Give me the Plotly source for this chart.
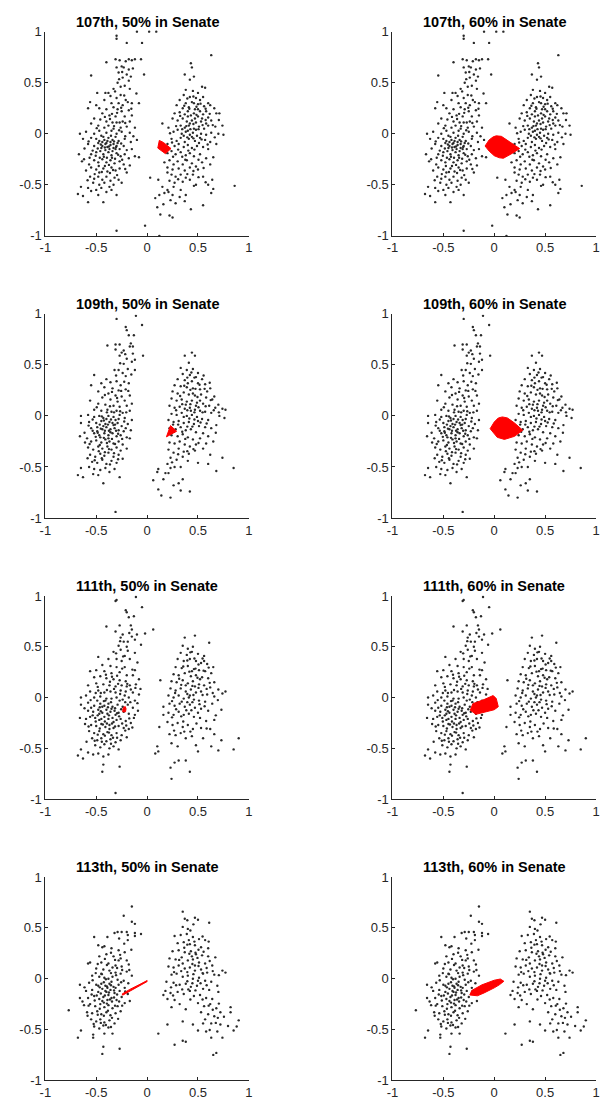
import plotly.graph_objects as go

# ---------------- data ----------------
titles = ["107th, 50% in Senate", "107th, 60% in Senate",
          "109th, 50% in Senate", "109th, 60% in Senate",
          "111th, 50% in Senate", "111th, 60% in Senate",
          "113th, 50% in Senate", "113th, 60% in Senate"]
tick_vals = [-1, -0.5, 0, 0.5, 1]
tick_text = ["-1", "-0.5", "0", "0.5", "1"]

d107 = [(-0.10,1.00),(0.02,1.00),(0.09,1.00),(-0.30,0.96),(-0.30,0.93),(-0.20,0.89),(-0.05,0.89),
(-0.40,0.70),(-0.31,0.73),(-0.27,0.72),(-0.21,0.71),(-0.18,0.73),(-0.15,0.72),(-0.12,0.73),(-0.06,0.73),
(-0.30,0.65),(-0.25,0.66),(-0.23,0.65),(-0.18,0.63),(-0.14,0.64),(-0.28,0.60),(-0.20,0.58),(-0.16,0.56),(-0.03,0.58),(-0.55,0.57),
(-0.24,0.55),(-0.18,0.52),(-0.29,0.50),(-0.26,0.46),(-0.22,0.47),(-0.33,0.44),(-0.17,0.44),(-0.49,0.40),(-0.41,0.40),(-0.38,0.40),(-0.36,0.37),(-0.30,0.35),(-0.26,0.38),(-0.21,0.33),(-0.15,0.30),(-0.08,0.30),(-0.56,0.31),(-0.50,0.28),(-0.42,0.33),(-0.35,0.30),(-0.28,0.30),(-0.24,0.28),(-0.19,0.31),
(-0.58,0.25),(-0.47,0.25),(-0.40,0.24),(-0.33,0.26),(-0.29,0.24),(-0.25,0.22),(-0.18,0.23),(-0.44,0.20),(-0.37,0.18),(-0.31,0.17),(-0.22,0.17),(-0.15,0.18),(-0.52,0.15),(-0.46,0.14),(-0.40,0.12),(-0.34,0.11),(-0.30,0.11),(-0.27,0.11),(-0.24,0.12),(-0.17,0.12),(-0.55,0.10),(-0.48,0.08),(-0.42,0.06),(-0.38,0.08),(-0.33,0.05),(-0.26,0.06),(-0.20,0.07),(-0.12,0.06),
(-0.66,0.00),(-0.60,0.02),(-0.52,0.00),(-0.47,0.03),(-0.40,0.01),(-0.35,0.03),(-0.30,0.00),(-0.25,0.02),(-0.17,0.01),(-0.63,-0.05),(-0.55,-0.04),(-0.50,-0.05),(-0.45,-0.02),(-0.42,-0.06),(-0.38,-0.04),(-0.34,-0.06),(-0.31,-0.03),(-0.28,-0.07),(-0.22,-0.05),(-0.16,-0.08),(-0.10,-0.06),
(-0.44,-0.08),(-0.40,-0.09),(-0.36,-0.08),(-0.33,-0.10),(-0.29,-0.09),(-0.37,-0.15),(-0.41,-0.16),(-0.34,-0.17),(-0.45,-0.14),(-0.31,-0.15),
(-0.67,-0.20),(-0.58,-0.10),(-0.52,-0.12),(-0.48,-0.09),(-0.44,-0.12),(-0.41,-0.10),(-0.39,-0.13),(-0.36,-0.11),(-0.33,-0.14),(-0.30,-0.12),(-0.27,-0.15),(-0.23,-0.12),(-0.20,-0.16),(-0.15,-0.15),(-0.62,-0.25),(-0.55,-0.20),(-0.50,-0.18),(-0.46,-0.17),(-0.43,-0.20),(-0.38,-0.18),(-0.35,-0.21),(-0.30,-0.19),(-0.26,-0.22),(-0.22,-0.20),(-0.18,-0.24),(-0.12,-0.22),(-0.64,-0.27),(-0.57,-0.30),(-0.52,-0.26),(-0.48,-0.28),(-0.44,-0.25),(-0.40,-0.28),(-0.36,-0.26),(-0.32,-0.29),(-0.27,-0.27),(-0.23,-0.30),(-0.17,-0.31),(-0.08,-0.23),
(-0.60,-0.36),(-0.55,-0.33),(-0.50,-0.35),(-0.47,-0.38),(-0.43,-0.34),(-0.39,-0.37),(-0.35,-0.33),(-0.31,-0.36),(-0.27,-0.34),(-0.20,-0.38),(-0.56,-0.42),(-0.52,-0.44),(-0.48,-0.42),(-0.44,-0.45),(-0.40,-0.42),(-0.36,-0.46),(-0.32,-0.43),(-0.28,-0.45),(-0.53,-0.48),(-0.47,-0.50),(-0.42,-0.48),(-0.37,-0.52),(-0.33,-0.50),(-0.25,-0.48),
(-0.65,-0.52),(-0.58,-0.53),(-0.55,-0.56),(-0.50,-0.55),(-0.45,-0.53),(-0.40,-0.57),(-0.35,-0.55),(-0.68,-0.59),(-0.63,-0.61),(-0.58,-0.67),(-0.48,-0.60),(-0.43,-0.67),(-0.30,-0.60),(-0.30,-0.95),(-0.02,-0.90),(0.12,-1.00),
(-0.47,-0.07),(-0.43,-0.03),(-0.39,-0.07),(-0.355,-0.02),(-0.325,-0.075),(-0.305,-0.13),(-0.375,-0.125),(-0.415,-0.135),(-0.455,-0.105),(-0.485,-0.145),(-0.425,-0.225),(-0.395,-0.235),(-0.345,-0.235),(-0.315,-0.245),(-0.285,-0.205),(-0.465,-0.235),(-0.505,-0.215),(-0.535,-0.165),(-0.565,-0.235),(-0.475,-0.315),(-0.415,-0.315),(-0.375,-0.305),(-0.335,-0.355),(-0.445,-0.375),(-0.515,-0.395),(-0.585,-0.455),(-0.365,-0.385),(-0.295,-0.405),(-0.245,-0.255),(-0.215,-0.345),(-0.255,-0.095),(-0.215,-0.025),(-0.275,0.035),(-0.325,0.075),(-0.365,0.145),(-0.295,0.205),(-0.255,0.255),(-0.225,0.375),(-0.315,0.415),(-0.275,0.535),(-0.345,0.195),(-0.415,0.165),(-0.495,0.055),(-0.575,-0.075),(-0.615,-0.145),(-0.215,0.105),(-0.135,-0.025),(-0.155,0.245),(-0.105,0.395),(-0.245,0.605)]

r107 = [(0.63,0.77),(0.43,0.69),(0.44,0.65),(0.37,0.58),(0.46,0.56),(0.42,0.53),(0.54,0.46),(0.57,0.45),
(0.38,0.43),(0.45,0.42),(0.50,0.40),(0.36,0.38),(0.42,0.36),(0.48,0.35),(0.55,0.36),(0.60,0.30),(0.32,0.33),(0.38,0.30),(0.44,0.31),(0.50,0.29),(0.56,0.27),(0.62,0.28),(0.29,0.28),(0.35,0.25),(0.41,0.26),(0.47,0.24),(0.52,0.22),(0.58,0.22),(0.66,0.25),
(0.27,0.20),(0.32,0.21),(0.37,0.19),(0.40,0.22),(0.43,0.18),(0.46,0.20),(0.50,0.17),(0.55,0.19),(0.60,0.16),(0.68,0.20),(0.71,0.20),(0.25,0.15),(0.30,0.13),(0.35,0.15),(0.39,0.12),(0.44,0.13),(0.48,0.11),(0.53,0.12),(0.58,0.10),(0.63,0.13),(0.33,0.08),(0.37,0.06),(0.41,0.08),(0.46,0.05),(0.51,0.07),(0.56,0.05),(0.60,0.08),(0.67,0.07),(0.74,0.08),
(0.15,0.10),(0.21,0.06),(0.26,0.02),(0.30,0.04),(0.34,0.00),(0.38,0.02),(0.42,-0.01),(0.45,0.01),(0.49,-0.02),(0.53,0.00),(0.58,-0.01),(0.63,0.01),(0.70,0.00),(0.75,-0.01),(0.24,-0.05),(0.29,-0.07),(0.33,-0.04),(0.37,-0.08),(0.41,-0.05),(0.47,-0.07),(0.51,-0.09),(0.57,-0.06),(0.62,-0.08),(0.68,-0.10),(0.20,-0.10),(0.27,-0.12),(0.31,-0.10),(0.36,-0.13),(0.40,-0.11),(0.44,-0.14),(0.49,-0.12),(0.55,-0.13),(0.60,-0.15),
(0.20,-0.19),(0.24,-0.17),(0.28,-0.20),(0.33,-0.18),(0.38,-0.21),(0.42,-0.19),(0.46,-0.22),(0.52,-0.20),(0.58,-0.24),(0.65,-0.23),(0.17,-0.28),(0.22,-0.26),(0.26,-0.30),(0.30,-0.27),(0.35,-0.30),(0.39,-0.26),(0.44,-0.29),(0.48,-0.32),(0.54,-0.28),(0.62,-0.30),(0.20,-0.33),(0.25,-0.35),(0.31,-0.34),(0.37,-0.36),(0.42,-0.33),(0.50,-0.35),
(0.20,-0.38),(0.24,-0.40),(0.28,-0.42),(0.33,-0.40),(0.38,-0.43),(0.45,-0.40),(0.55,-0.42),(0.64,-0.45),(0.22,-0.46),(0.27,-0.48),(0.35,-0.47),(0.42,-0.45),(0.48,-0.50),(0.60,-0.50),(0.03,-0.43),(0.11,-0.45),(0.15,-0.52),(0.20,-0.55),(0.26,-0.52),(0.33,-0.55),(0.46,-0.51),(0.65,-0.54),(0.86,-0.51),
(0.08,-0.63),(0.12,-0.60),(0.17,-0.58),(0.21,-0.57),(0.25,-0.60),(0.32,-0.62),(0.38,-0.60),(0.10,-0.72),(0.16,-0.69),(0.23,-0.65),(0.28,-0.68),(0.37,-0.66),(0.43,-0.74),(0.13,-0.79),(0.22,-0.80),(0.25,-0.82),(0.63,-0.58),(0.55,-0.70),
(0.40,0.03),(0.44,-0.03),(0.48,0.04),(0.52,-0.04),(0.36,-0.02),(0.54,0.15),(0.47,0.15),(0.42,0.10),(0.50,0.24),(0.46,0.30),(0.52,0.33),(0.40,0.17),
(0.385,0.075),(0.425,0.045),(0.455,0.095),(0.505,0.045),(0.545,0.085),(0.395,-0.035),(0.455,-0.045),(0.535,-0.055),(0.345,0.045),(0.575,0.135),(0.485,0.185),(0.415,0.245),(0.525,0.295),(0.455,0.365),(0.395,0.345),(0.575,0.245),(0.615,0.195),(0.645,0.085),(0.665,-0.035),(0.595,-0.105),(0.465,-0.155),(0.405,-0.165),(0.345,-0.225),(0.305,-0.155),(0.255,-0.225),(0.375,-0.255),(0.505,-0.255),(0.555,-0.335),(0.455,-0.365),(0.395,-0.395),(0.305,-0.445),(0.505,-0.425),(0.575,-0.475),(0.285,0.075),(0.225,0.005),(0.325,0.175),(0.365,0.275),(0.485,0.265),(0.705,0.135),(0.245,-0.085)]

d109 = [(-0.11,0.98),(-0.30,0.95),(-0.05,0.89),(-0.21,0.87),(-0.20,0.84),(-0.13,0.79),(-0.18,0.79),(-0.39,0.69),(-0.31,0.70),(-0.27,0.70),(-0.16,0.71),(-0.17,0.68),(-0.14,0.68),(-0.31,0.65),(-0.23,0.64),(-0.25,0.62),(-0.27,0.59),(-0.14,0.61),(-0.04,0.59),(-0.12,0.55),(-0.15,0.53),(-0.23,0.51),(-0.20,0.56),(-0.32,0.45),(-0.28,0.45),(-0.19,0.46),(-0.12,0.45),(-0.24,0.42),(-0.21,0.39),(-0.52,0.40),(-0.45,0.32),(-0.55,0.30),(-0.40,0.36),(-0.36,0.33),(-0.30,0.34),(-0.26,0.30),(-0.18,0.32),(-0.42,0.28),(-0.34,0.27),(-0.28,0.25),(-0.21,0.26),(-0.48,0.24),(-0.38,0.22),(-0.31,0.20),(-0.25,0.19),(-0.17,0.20),(-0.44,0.18),(-0.36,0.16),(-0.29,0.14),(-0.22,0.15),(-0.56,0.15),(-0.48,0.12),(-0.41,0.11),(-0.33,0.10),(-0.27,0.09),(-0.20,0.10),(-0.15,0.12),(-0.52,0.06),(-0.45,0.05),(-0.39,0.06),(-0.35,0.04),(-0.30,0.05),(-0.24,0.03),(-0.17,0.05),
(-0.65,0.00),(-0.58,0.01),(-0.52,-0.01),(-0.47,0.00),(-0.43,-0.02),(-0.38,0.00),(-0.33,-0.01),(-0.28,-0.03),(-0.22,-0.02),(-0.15,-0.04),(-0.65,-0.07),(-0.57,-0.06),(-0.50,-0.07),(-0.45,-0.05),(-0.41,-0.08),(-0.37,-0.06),(-0.33,-0.09),(-0.29,-0.07),(-0.25,-0.10),(-0.19,-0.08),(-0.16,-0.14),(-0.55,-0.12),(-0.49,-0.11),(-0.44,-0.13),(-0.40,-0.11),(-0.36,-0.13),(-0.32,-0.12),(-0.28,-0.14),(-0.23,-0.15),(-0.66,-0.20),(-0.59,-0.22),(-0.52,-0.17),(-0.47,-0.19),(-0.42,-0.17),(-0.38,-0.19),(-0.34,-0.17),(-0.30,-0.20),(-0.26,-0.19),(-0.20,-0.21),(-0.17,-0.22),(-0.61,-0.26),(-0.55,-0.25),(-0.50,-0.24),(-0.45,-0.26),(-0.41,-0.23),(-0.37,-0.25),(-0.33,-0.27),(-0.28,-0.25),(-0.24,-0.28),(-0.58,-0.31),(-0.53,-0.33),(-0.48,-0.30),(-0.44,-0.32),(-0.39,-0.30),(-0.35,-0.33),(-0.30,-0.31),(-0.26,-0.34),(-0.20,-0.32),(-0.56,-0.38),(-0.51,-0.40),(-0.46,-0.37),(-0.42,-0.39),(-0.38,-0.36),(-0.33,-0.40),(-0.28,-0.38),(-0.54,-0.45),(-0.49,-0.46),(-0.44,-0.43),(-0.40,-0.47),(-0.35,-0.44),(-0.30,-0.46),(-0.24,-0.42),(-0.65,-0.51),(-0.57,-0.50),(-0.52,-0.52),(-0.46,-0.53),(-0.41,-0.51),(-0.37,-0.55),(-0.32,-0.52),(-0.68,-0.58),(-0.63,-0.60),(-0.53,-0.57),(-0.48,-0.58),(-0.43,-0.66),(-0.27,-0.60),(-0.31,-0.94),
(-0.40,-0.03),(-0.36,-0.16),(-0.43,-0.10),(-0.31,-0.04),(-0.38,-0.22),(-0.46,-0.21),(-0.34,-0.07),(-0.27,0.01),(-0.49,-0.15),(-0.21,-0.12),
(-0.465,-0.085),(-0.425,-0.045),(-0.385,-0.085),(-0.355,-0.035),(-0.315,-0.085),(-0.305,-0.145),(-0.375,-0.145),(-0.415,-0.145),(-0.455,-0.125),(-0.485,-0.165),(-0.425,-0.215),(-0.395,-0.265),(-0.345,-0.225),(-0.315,-0.275),(-0.285,-0.175),(-0.465,-0.285),(-0.505,-0.205),(-0.535,-0.145),(-0.565,-0.275),(-0.475,-0.345),(-0.415,-0.355),(-0.375,-0.325),(-0.325,-0.365),(-0.445,-0.415),(-0.515,-0.435),(-0.585,-0.415),(-0.365,-0.475),(-0.285,-0.425),(-0.245,-0.225),(-0.225,-0.055),(-0.265,0.045),(-0.325,0.035),(-0.365,0.095),(-0.295,0.175),(-0.255,0.245),(-0.225,0.335),(-0.305,0.395),(-0.265,0.515),(-0.345,0.235),(-0.415,0.205),(-0.495,0.085),(-0.575,-0.095),(-0.615,-0.165),(-0.205,0.035),(-0.185,0.245),(-0.155,0.405),(-0.215,0.605),(-0.445,-0.005),(-0.395,0.035),(-0.535,-0.035)]

r109 = [(0.44,0.62),(0.37,0.59),(0.47,0.59),(0.41,0.52),(0.33,0.47),(0.39,0.45),(0.45,0.46),(0.50,0.42),(0.35,0.41),(0.42,0.40),(0.48,0.38),(0.54,0.36),(0.30,0.36),(0.37,0.35),(0.44,0.34),(0.50,0.32),(0.57,0.31),(0.62,0.27),(0.27,0.30),(0.33,0.29),(0.39,0.28),(0.45,0.27),(0.52,0.26),(0.59,0.24),(0.66,0.19),(0.25,0.24),(0.30,0.22),(0.36,0.23),(0.41,0.21),(0.47,0.20),(0.53,0.21),(0.58,0.18),(0.64,0.16),(0.70,0.11),(0.24,0.17),(0.29,0.15),(0.34,0.16),(0.39,0.14),(0.44,0.15),(0.49,0.13),(0.55,0.12),(0.61,0.10),(0.67,0.08),(0.74,0.07),(0.77,0.06),(0.22,0.10),(0.27,0.08),(0.32,0.09),(0.37,0.07),(0.42,0.08),(0.47,0.06),(0.52,0.05),(0.57,0.04),(0.63,0.03),(0.71,0.00),(0.76,-0.02),(0.24,0.02),(0.29,0.01),(0.34,0.03),(0.39,0.00),(0.44,0.01),(0.49,-0.01),(0.54,-0.03),(0.60,-0.04),(0.68,-0.09),(0.21,-0.04),(0.26,-0.06),(0.31,-0.05),(0.36,-0.07),(0.41,-0.06),(0.46,-0.08),(0.51,-0.10),(0.57,-0.11),(0.63,-0.12),(0.22,-0.12),(0.28,-0.13),(0.33,-0.11),(0.38,-0.14),(0.43,-0.13),(0.48,-0.16),(0.55,-0.17),(0.60,-0.20),(0.24,-0.19),(0.30,-0.20),(0.35,-0.18),(0.40,-0.21),(0.45,-0.23),(0.52,-0.22),(0.58,-0.27),(0.65,-0.25),(0.22,-0.26),(0.27,-0.27),(0.32,-0.25),(0.37,-0.28),(0.42,-0.30),(0.48,-0.28),(0.55,-0.32),(0.21,-0.33),(0.26,-0.36),(0.31,-0.32),(0.36,-0.35),(0.41,-0.37),(0.47,-0.34),(0.62,-0.38),(0.23,-0.41),(0.29,-0.43),(0.35,-0.40),(0.40,-0.44),(0.50,-0.46),(0.60,-0.47),(0.74,-0.41),(0.68,-0.54),(0.85,-0.51),(0.06,-0.63),(0.11,-0.52),(0.10,-0.55),(0.18,-0.56),(0.21,-0.56),(0.23,-0.51),(0.27,-0.50),(0.33,-0.50),(0.23,-0.80),(0.14,-0.78),(0.11,-0.72),(0.31,-0.66),(0.26,-0.68),(0.33,-0.73),(0.42,-0.74),(0.35,-0.62),(0.16,-0.62),(0.20,-0.47),(0.48,0.10),(0.43,0.05),(0.38,0.11),(0.52,0.15),(0.45,0.22),(0.40,0.32),(0.50,-0.05),(0.36,-0.01),
(0.395,0.055),(0.425,0.115),(0.465,0.035),(0.505,0.085),(0.545,0.035),(0.415,-0.025),(0.465,-0.035),(0.525,-0.065),(0.345,0.115),(0.575,0.095),(0.495,0.185),(0.425,0.255),(0.515,0.305),(0.465,0.375),(0.395,0.375),(0.565,0.265),(0.625,0.155),(0.655,0.055),(0.585,-0.075),(0.445,-0.105),(0.395,-0.105),(0.345,-0.155),(0.305,-0.085),(0.265,-0.155),(0.375,-0.225),(0.505,-0.265),(0.455,-0.325),(0.395,-0.345),(0.305,-0.375),(0.245,-0.455),(0.285,0.055),(0.325,0.195),(0.365,0.295),(0.475,0.265),(0.705,0.035),(0.255,-0.085),(0.435,0.425),(0.555,0.395),(0.615,0.325),(0.675,-0.165)]

d111 = [(-0.11,0.99),(-0.31,0.95),(-0.30,0.96),(-0.05,0.89),(-0.21,0.86),(-0.20,0.84),(-0.13,0.80),(-0.18,0.79),(-0.40,0.70),(-0.27,0.71),(-0.16,0.71),(-0.15,0.67),(0.06,0.67),(-0.02,0.63),(-0.31,0.65),(-0.24,0.62),(-0.26,0.59),(-0.10,0.62),(-0.15,0.60),(-0.23,0.55),(-0.19,0.55),(-0.12,0.57),(-0.06,0.52),(-0.28,0.51),(-0.20,0.50),(-0.48,0.40),(-0.33,0.45),(-0.26,0.47),(-0.19,0.46),(-0.12,0.44),(-0.22,0.41),(-0.38,0.38),(-0.30,0.38),(-0.25,0.36),(-0.17,0.38),(-0.44,0.32),(-0.36,0.31),(-0.30,0.30),(-0.22,0.30),(-0.12,0.27),(-0.56,0.26),(-0.50,0.27),(-0.42,0.26),(-0.35,0.24),(-0.27,0.25),(-0.20,0.22),(-0.14,0.22),(-0.52,0.20),(-0.46,0.21),(-0.40,0.19),(-0.33,0.18),(-0.27,0.17),(-0.21,0.16),(-0.08,0.18),(-0.58,0.12),(-0.50,0.14),(-0.43,0.13),(-0.37,0.12),(-0.31,0.11),(-0.25,0.12),(-0.17,0.12),(-0.11,0.13),(-0.56,0.06),(-0.48,0.07),(-0.42,0.05),(-0.36,0.06),(-0.31,0.05),(-0.26,0.07),(-0.21,0.06),(-0.14,0.05),(-0.08,0.03),(-0.65,0.00),(-0.60,0.02),(-0.52,0.00),(-0.46,0.01),(-0.40,-0.01),(-0.35,-0.01),(-0.30,0.00),(-0.24,-0.02),(-0.18,0.00),(-0.12,-0.03),(-0.65,-0.07),(-0.58,-0.05),(-0.52,-0.08),(-0.46,-0.06),(-0.42,-0.08),(-0.38,-0.06),(-0.34,-0.09),(-0.29,-0.07),(-0.24,-0.09),(-0.19,-0.07),(-0.14,-0.10),(-0.58,-0.13),(-0.53,-0.14),(-0.48,-0.12),(-0.44,-0.15),(-0.40,-0.12),(-0.36,-0.14),(-0.32,-0.13),(-0.28,-0.15),(-0.23,-0.14),(-0.18,-0.16),(-0.12,-0.17),(-0.66,-0.20),(-0.60,-0.21),(-0.56,-0.19),(-0.51,-0.20),(-0.47,-0.22),(-0.42,-0.19),(-0.38,-0.21),(-0.34,-0.20),(-0.30,-0.22),(-0.26,-0.21),(-0.21,-0.23),(-0.16,-0.25),(-0.61,-0.26),(-0.55,-0.27),(-0.50,-0.28),(-0.45,-0.26),(-0.41,-0.29),(-0.37,-0.27),(-0.33,-0.30),(-0.28,-0.28),(-0.23,-0.30),(-0.18,-0.31),(-0.57,-0.33),(-0.52,-0.35),(-0.47,-0.33),(-0.43,-0.36),(-0.39,-0.34),(-0.35,-0.37),(-0.30,-0.35),(-0.25,-0.37),(-0.20,-0.39),(-0.54,-0.40),(-0.49,-0.42),(-0.45,-0.40),(-0.40,-0.43),(-0.36,-0.41),(-0.31,-0.44),(-0.26,-0.42),(-0.51,-0.47),(-0.46,-0.49),(-0.42,-0.46),(-0.37,-0.50),(-0.33,-0.48),(-0.28,-0.51),(-0.65,-0.51),(-0.58,-0.54),(-0.53,-0.56),(-0.48,-0.55),(-0.43,-0.58),(-0.38,-0.56),(-0.68,-0.57),(-0.63,-0.60),(-0.43,-0.66),(-0.44,-0.73),(-0.27,-0.68),(-0.31,-0.94),(-0.45,-0.21),(-0.39,-0.16),(-0.35,-0.11),(-0.41,-0.03),(-0.47,-0.16),(-0.33,-0.24),(-0.37,-0.31),(-0.44,-0.09),(-0.31,-0.17),(-0.27,-0.03),(-0.22,0.02),(-0.49,-0.03),(-0.55,-0.10),(-0.16,0.08),(-0.13,-0.20),(-0.20,0.11),(-0.09,-0.13),
(-0.465,-0.095),(-0.425,-0.035),(-0.385,-0.095),(-0.355,-0.045),(-0.315,-0.105),(-0.295,-0.155),(-0.375,-0.175),(-0.415,-0.235),(-0.455,-0.135),(-0.485,-0.175),(-0.435,-0.265),(-0.395,-0.255),(-0.345,-0.255),(-0.315,-0.285),(-0.275,-0.185),(-0.465,-0.305),(-0.505,-0.235),(-0.535,-0.175),(-0.575,-0.285),(-0.485,-0.365),(-0.415,-0.375),(-0.375,-0.345),(-0.335,-0.395),(-0.445,-0.435),(-0.515,-0.425),(-0.595,-0.435),(-0.355,-0.455),(-0.295,-0.395),(-0.245,-0.255),(-0.215,-0.325),(-0.255,-0.115),(-0.215,-0.045),(-0.265,0.035),(-0.325,0.085),(-0.365,0.155),(-0.295,0.215),(-0.245,0.285),(-0.235,0.405),(-0.305,0.435),(-0.265,0.555),(-0.345,0.205),(-0.405,0.225),(-0.485,0.105),(-0.555,-0.025),(-0.615,-0.105),(-0.195,0.135),(-0.165,-0.045),(-0.145,0.275),(-0.095,0.345),(-0.175,0.635),(-0.455,0.045),(-0.395,0.075),(-0.505,0.045),(-0.285,0.135),(-0.175,-0.205),(-0.145,-0.295),(-0.205,-0.275),(-0.095,-0.055),(-0.065,0.085),(-0.115,0.095)]

r111 = [(0.47,0.61),(0.37,0.59),(0.61,0.54),(0.35,0.51),(0.40,0.48),(0.45,0.50),(0.33,0.44),(0.39,0.42),(0.44,0.45),(0.50,0.43),(0.56,0.41),(0.30,0.38),(0.36,0.36),(0.42,0.38),(0.48,0.36),(0.53,0.34),(0.59,0.33),(0.65,0.30),(0.28,0.30),(0.34,0.29),(0.40,0.31),(0.46,0.28),(0.51,0.27),(0.57,0.26),(0.63,0.24),(0.26,0.23),(0.31,0.22),(0.37,0.24),(0.43,0.21),(0.48,0.22),(0.54,0.20),(0.60,0.19),(0.66,0.15),(0.13,0.17),(0.24,0.16),(0.29,0.15),(0.35,0.17),(0.40,0.14),(0.45,0.16),(0.51,0.13),(0.56,0.12),(0.62,0.10),(0.70,0.08),(0.77,0.06),(0.23,0.09),(0.28,0.07),(0.33,0.09),(0.38,0.06),(0.43,0.08),(0.48,0.05),(0.53,0.06),(0.59,0.03),(0.66,0.01),(0.74,0.04),(0.21,0.02),(0.26,0.00),(0.31,0.02),(0.36,-0.01),(0.41,0.00),(0.46,-0.02),(0.51,-0.03),(0.57,-0.04),(0.64,-0.06),(0.73,-0.12),(0.16,-0.09),(0.22,-0.06),(0.27,-0.08),(0.32,-0.06),(0.37,-0.09),(0.42,-0.07),(0.47,-0.10),(0.53,-0.11),(0.60,-0.13),(0.16,-0.17),(0.21,-0.15),(0.26,-0.17),(0.31,-0.14),(0.36,-0.17),(0.41,-0.16),(0.46,-0.19),(0.52,-0.20),(0.58,-0.23),(0.66,-0.22),(0.12,-0.29),(0.20,-0.24),(0.25,-0.27),(0.30,-0.25),(0.35,-0.29),(0.40,-0.27),(0.45,-0.31),(0.53,-0.30),(0.62,-0.31),(0.22,-0.36),(0.28,-0.37),(0.33,-0.35),(0.38,-0.40),(0.44,-0.38),(0.55,-0.40),(0.66,-0.36),(0.73,-0.42),(0.90,-0.40),(0.85,-0.51),(0.10,-0.48),(0.11,-0.53),(0.08,-0.55),(0.24,-0.45),(0.30,-0.48),(0.48,-0.47),(0.63,-0.48),(0.70,-0.52),(0.23,-0.69),(0.24,-0.80),(0.27,-0.64),(0.31,-0.62),(0.38,-0.62),(0.42,-0.73),(0.50,-0.53),(0.42,0.02),(0.38,0.12),(0.47,0.11),(0.52,0.18),(0.44,0.26),(0.34,-0.04),(0.50,-0.15),(0.56,0.36),
(0.395,0.035),(0.445,0.115),(0.455,0.025),(0.505,0.095),(0.545,0.025),(0.395,-0.045),(0.445,-0.045),(0.515,-0.065),(0.335,0.125),(0.585,0.085),(0.495,0.195),(0.415,0.255),(0.505,0.325),(0.465,0.385),(0.395,0.365),(0.555,0.265),(0.615,0.145),(0.645,0.045),(0.565,-0.085),(0.435,-0.125),(0.385,-0.125),(0.335,-0.185),(0.285,-0.115),(0.245,-0.195),(0.355,-0.235),(0.485,-0.255),(0.425,-0.335),(0.365,-0.335),(0.265,-0.325),(0.275,0.045),(0.315,0.185),(0.355,0.305),(0.475,0.285),(0.695,-0.025),(0.245,-0.035),(0.425,0.445),(0.545,0.385),(0.605,0.295),(0.675,-0.175),(0.585,-0.305)]

d113 = [(-0.15,0.71),(-0.23,0.62),(-0.15,0.56),(-0.12,0.54),(-0.52,0.41),(-0.39,0.41),(-0.32,0.45),(-0.29,0.46),(-0.25,0.46),(-0.20,0.46),(-0.19,0.43),(-0.12,0.45),(-0.12,0.42),(-0.06,0.44),(-0.19,0.38),(-0.48,0.33),(-0.44,0.31),(-0.42,0.32),(-0.35,0.30),(-0.28,0.28),(-0.22,0.26),(-0.58,0.15),(-0.56,0.16),(-0.47,0.22),(-0.40,0.24),(-0.33,0.22),(-0.26,0.20),(-0.20,0.18),(-0.45,0.16),(-0.38,0.15),(-0.31,0.13),(-0.25,0.12),(-0.18,0.14),(-0.50,0.10),(-0.43,0.09),(-0.37,0.08),(-0.31,0.06),(-0.26,0.05),(-0.20,0.07),(-0.15,0.03),(-0.54,0.03),(-0.47,0.02),(-0.42,0.01),(-0.38,0.00),(-0.34,0.02),(-0.29,-0.01),(-0.23,-0.02),(-0.66,-0.06),(-0.57,-0.04),(-0.50,-0.06),(-0.45,-0.05),(-0.41,-0.07),(-0.37,-0.05),(-0.33,-0.08),(-0.28,-0.06),(-0.22,-0.09),(-0.60,-0.12),(-0.54,-0.11),(-0.48,-0.13),(-0.44,-0.10),(-0.40,-0.13),(-0.36,-0.11),(-0.32,-0.14),(-0.27,-0.12),(-0.19,-0.15),(-0.17,-0.22),(-0.66,-0.19),(-0.58,-0.19),(-0.52,-0.17),(-0.47,-0.20),(-0.43,-0.18),(-0.39,-0.21),(-0.35,-0.19),(-0.30,-0.21),(-0.25,-0.18),(-0.22,-0.24),(-0.77,-0.31),(-0.62,-0.26),(-0.56,-0.25),(-0.51,-0.27),(-0.46,-0.25),(-0.42,-0.28),(-0.38,-0.26),(-0.34,-0.29),(-0.29,-0.27),(-0.59,-0.33),(-0.54,-0.34),(-0.49,-0.32),(-0.45,-0.35),(-0.40,-0.33),(-0.36,-0.36),(-0.31,-0.34),(-0.26,-0.32),(-0.55,-0.40),(-0.50,-0.42),(-0.46,-0.40),(-0.42,-0.43),(-0.37,-0.41),(-0.32,-0.44),(-0.52,-0.47),(-0.47,-0.49),(-0.43,-0.46),(-0.38,-0.48),(-0.65,-0.51),(-0.68,-0.58),(-0.53,-0.55),(-0.53,-0.58),(-0.43,-0.67),(-0.44,-0.74),(-0.27,-0.69),(-0.34,-0.54),(-0.42,-0.54),(-0.41,-0.12),(-0.38,-0.16),(-0.35,-0.03),(-0.44,-0.22),(-0.48,-0.07),(-0.31,-0.09),(-0.39,-0.09),(-0.45,0.05),(-0.34,0.11),(-0.28,0.18),
(-0.465,-0.085),(-0.425,-0.035),(-0.395,-0.075),(-0.355,-0.065),(-0.325,-0.115),(-0.295,-0.155),(-0.375,-0.135),(-0.415,-0.165),(-0.455,-0.145),(-0.495,-0.165),(-0.425,-0.235),(-0.395,-0.245),(-0.345,-0.225),(-0.315,-0.265),(-0.275,-0.225),(-0.465,-0.295),(-0.515,-0.215),(-0.545,-0.155),(-0.575,-0.265),(-0.485,-0.355),(-0.425,-0.365),(-0.385,-0.315),(-0.345,-0.385),(-0.455,-0.435),(-0.525,-0.445),(-0.405,-0.455),(-0.355,-0.475),(-0.285,-0.395),(-0.245,-0.265),(-0.215,-0.125),(-0.255,-0.035),(-0.305,0.035),(-0.355,0.055),(-0.395,0.135),(-0.315,0.185),(-0.265,0.235),(-0.355,0.255),(-0.415,0.195),(-0.485,0.145),(-0.535,-0.015),(-0.615,-0.085),(-0.245,0.085),(-0.175,0.085),(-0.155,0.285),(-0.225,0.345),(-0.275,0.395),(-0.445,0.045),(-0.405,-0.005),(-0.505,0.055),(-0.295,0.105),(-0.185,-0.045),(-0.635,-0.225),(-0.585,-0.365),(-0.325,-0.185),(-0.365,-0.205)]

r113 = [(0.35,0.66),(0.47,0.60),(0.37,0.59),(0.50,0.58),(0.61,0.55),(0.35,0.51),(0.40,0.49),(0.27,0.42),(0.33,0.43),(0.39,0.44),(0.45,0.41),(0.51,0.39),(0.57,0.38),(0.30,0.35),(0.36,0.36),(0.42,0.34),(0.47,0.33),(0.53,0.31),(0.60,0.30),(0.25,0.27),(0.31,0.28),(0.37,0.26),(0.43,0.27),(0.48,0.24),(0.54,0.23),(0.60,0.22),(0.67,0.21),(0.22,0.20),(0.28,0.19),(0.34,0.21),(0.40,0.18),(0.45,0.19),(0.51,0.16),(0.57,0.15),(0.64,0.13),(0.74,0.08),(0.77,0.06),(0.21,0.12),(0.26,0.11),(0.31,0.13),(0.37,0.10),(0.42,0.11),(0.47,0.08),(0.53,0.09),(0.59,0.06),(0.66,0.04),(0.24,0.04),(0.29,0.05),(0.35,0.02),(0.40,0.03),(0.45,0.00),(0.51,0.01),(0.57,-0.02),(0.63,-0.03),(0.69,-0.07),(0.19,-0.03),(0.26,-0.04),(0.32,-0.06),(0.38,-0.05),(0.43,-0.08),(0.49,-0.07),(0.55,-0.10),(0.61,-0.11),(0.70,-0.13),(0.18,-0.12),(0.23,-0.14),(0.30,-0.13),(0.36,-0.15),(0.46,-0.17),(0.52,-0.16),(0.58,-0.19),(0.64,-0.20),(0.16,-0.16),(0.20,-0.20),(0.27,-0.21),(0.50,-0.24),(0.56,-0.27),(0.62,-0.25),(0.68,-0.29),(0.82,-0.28),(0.82,-0.33),(0.24,-0.28),(0.38,-0.30),(0.53,-0.33),(0.60,-0.35),(0.66,-0.37),(0.72,-0.33),(0.90,-0.41),(0.85,-0.51),(0.88,-0.47),(0.20,-0.45),(0.35,-0.42),(0.45,-0.45),(0.57,-0.40),(0.63,-0.44),(0.72,-0.45),(0.11,-0.54),(0.27,-0.65),(0.35,-0.61),(0.38,-0.62),(0.63,-0.58),(0.74,-0.58),(0.65,-0.75),(0.68,-0.73),(0.50,-0.51),(0.58,-0.52),(0.69,-0.52),(0.42,-0.12),(0.47,0.13),(0.44,0.22),(0.50,-0.02),(0.35,0.15),(0.55,0.05),(0.41,0.38),(0.32,-0.25),(0.55,-0.44),
(0.395,0.065),(0.445,0.145),(0.455,0.045),(0.505,0.125),(0.545,0.055),(0.395,-0.025),(0.445,-0.045),(0.525,-0.045),(0.335,0.075),(0.585,0.105),(0.495,0.205),(0.415,0.245),(0.505,0.285),(0.465,0.365),(0.395,0.335),(0.555,0.265),(0.615,0.175),(0.645,0.075),(0.585,-0.065),(0.475,-0.115),(0.405,-0.105),(0.345,-0.105),(0.285,-0.065),(0.255,-0.165),(0.425,-0.205),(0.545,-0.205),(0.605,-0.265),(0.645,-0.305),(0.705,-0.245),(0.755,-0.375),(0.675,-0.435),(0.615,-0.505),(0.265,0.065),(0.315,0.185),(0.365,0.305),(0.475,0.255),(0.705,0.035),(0.235,-0.085),(0.425,0.475),(0.545,0.415),(0.605,0.365),(0.395,0.575),(0.455,0.535),(0.695,-0.385),(0.795,-0.465)]

# red regions (polygon vertices, data units)
poly107_50 = [(0.12,-0.065),(0.16,-0.085),(0.235,-0.145),(0.18,-0.195),(0.105,-0.14)]
poly107_60 = [(-0.09,-0.12),(-0.05,-0.06),(-0.01,-0.03),(0.02,-0.02),(0.07,-0.025),(0.12,-0.06),(0.25,-0.145),(0.18,-0.19),(0.09,-0.24),(0.05,-0.235),(0.0,-0.215),(-0.05,-0.17)]
poly109_50 = [(0.19,-0.205),(0.23,-0.095),(0.29,-0.15)]
poly109_60 = [(-0.04,-0.125),(0.0,-0.06),(0.04,-0.02),(0.08,-0.01),(0.13,-0.02),(0.2,-0.07),(0.28,-0.14),(0.2,-0.2),(0.1,-0.23),(0.03,-0.21)]
poly111_50 = [(-0.24,-0.14),(-0.235,-0.10),(-0.215,-0.088),(-0.207,-0.11),(-0.212,-0.14)]
poly111_60 = [(-0.235,-0.125),(-0.21,-0.06),(-0.10,-0.02),(-0.01,0.02),(0.02,-0.01),(0.04,-0.09),(0.0,-0.12),(-0.18,-0.165)]
poly113_50 = [(-0.245,-0.15),(-0.17,-0.105),(-0.08,-0.06),(0.0,-0.018),(0.0,-0.028),(-0.08,-0.075),(-0.17,-0.12),(-0.24,-0.162)]
poly113_60 = [(-0.24,-0.16),(-0.22,-0.115),(-0.12,-0.06),(0.0,-0.015),(0.06,-0.003),(0.095,-0.025),(0.05,-0.06),(0.0,-0.09),(-0.1,-0.14),(-0.165,-0.168)]

points = [d107 + r107, d109 + r109, d111 + r111, d113 + r113]
polys = [poly107_50, poly107_60, poly109_50, poly109_60,
         poly111_50, poly111_60, poly113_50, poly113_60]

# ---------------- layout geometry ----------------
W, H = 600, 1112
col_px = [(40, 247), (393, 600)]
row_px = [(25, 232), (311, 518), (597, 803), (882, 1088)]

fig = go.Figure()
layout = dict(width=W, height=H, margin=dict(l=0, r=0, t=0, b=0),
              paper_bgcolor="white", plot_bgcolor="white", showlegend=False)
annotations = []
axcol = "#262626"
font = dict(family="Liberation Sans, Arial, sans-serif", size=13, color=axcol)

for i in range(4):
    for j in range(2):
        k = 2 * i + j + 1
        xs = "" if k == 1 else str(k)
        x0, x1 = col_px[j]
        yt, yb = row_px[i]
        xd = [x0 / W, x1 / W]
        yd = [1 - yb / H, 1 - yt / H]
        ax = dict(range=[-1, 1], tickvals=tick_vals, ticktext=tick_text,
                  ticks="inside", ticklen=3, tickcolor=axcol, tickwidth=1,
                  showline=True, linecolor=axcol, linewidth=1,
                  showgrid=False, zeroline=False, tickfont=font, fixedrange=True,
                  ticklabeloverflow="allow")
        layout["xaxis" + xs] = dict(ax, domain=xd, anchor="y" + xs)
        layout["yaxis" + xs] = dict(ax, domain=yd, anchor="x" + xs)
        pts = points[i]
        fig.add_trace(go.Scatter(
            x=[p[0] for p in pts], y=[p[1] for p in pts], mode="markers",
            marker=dict(size=2.4, color="#2a2a2a", line=dict(width=0)),
            xaxis="x" + xs, yaxis="y" + xs, cliponaxis=False, hoverinfo="skip"))
        poly = polys[k - 1]
        fig.add_trace(go.Scatter(
            x=[p[0] for p in poly] + [poly[0][0]], y=[p[1] for p in poly] + [poly[0][1]],
            mode="lines", fill="toself", fillcolor="#ff0000",
            line=dict(color="#ff0000", width=1),
            xaxis="x" + xs, yaxis="y" + xs, hoverinfo="skip"))
        annotations.append(dict(
            text="<b>" + titles[k - 1] + "</b>", xref="paper", yref="paper",
            x=(xd[0] + xd[1]) / 2, y=yd[1], xanchor="center", yanchor="bottom",
            yshift=0, showarrow=False,
            font=dict(family="Liberation Sans, Arial, sans-serif", size=14.5, color="black")))

layout["annotations"] = annotations
fig.update_layout(**layout)
fig.write_html("out.html", config={"displayModeBar": False},
               post_script="document.body.style.margin='0px';document.body.style.overflow='hidden';")
